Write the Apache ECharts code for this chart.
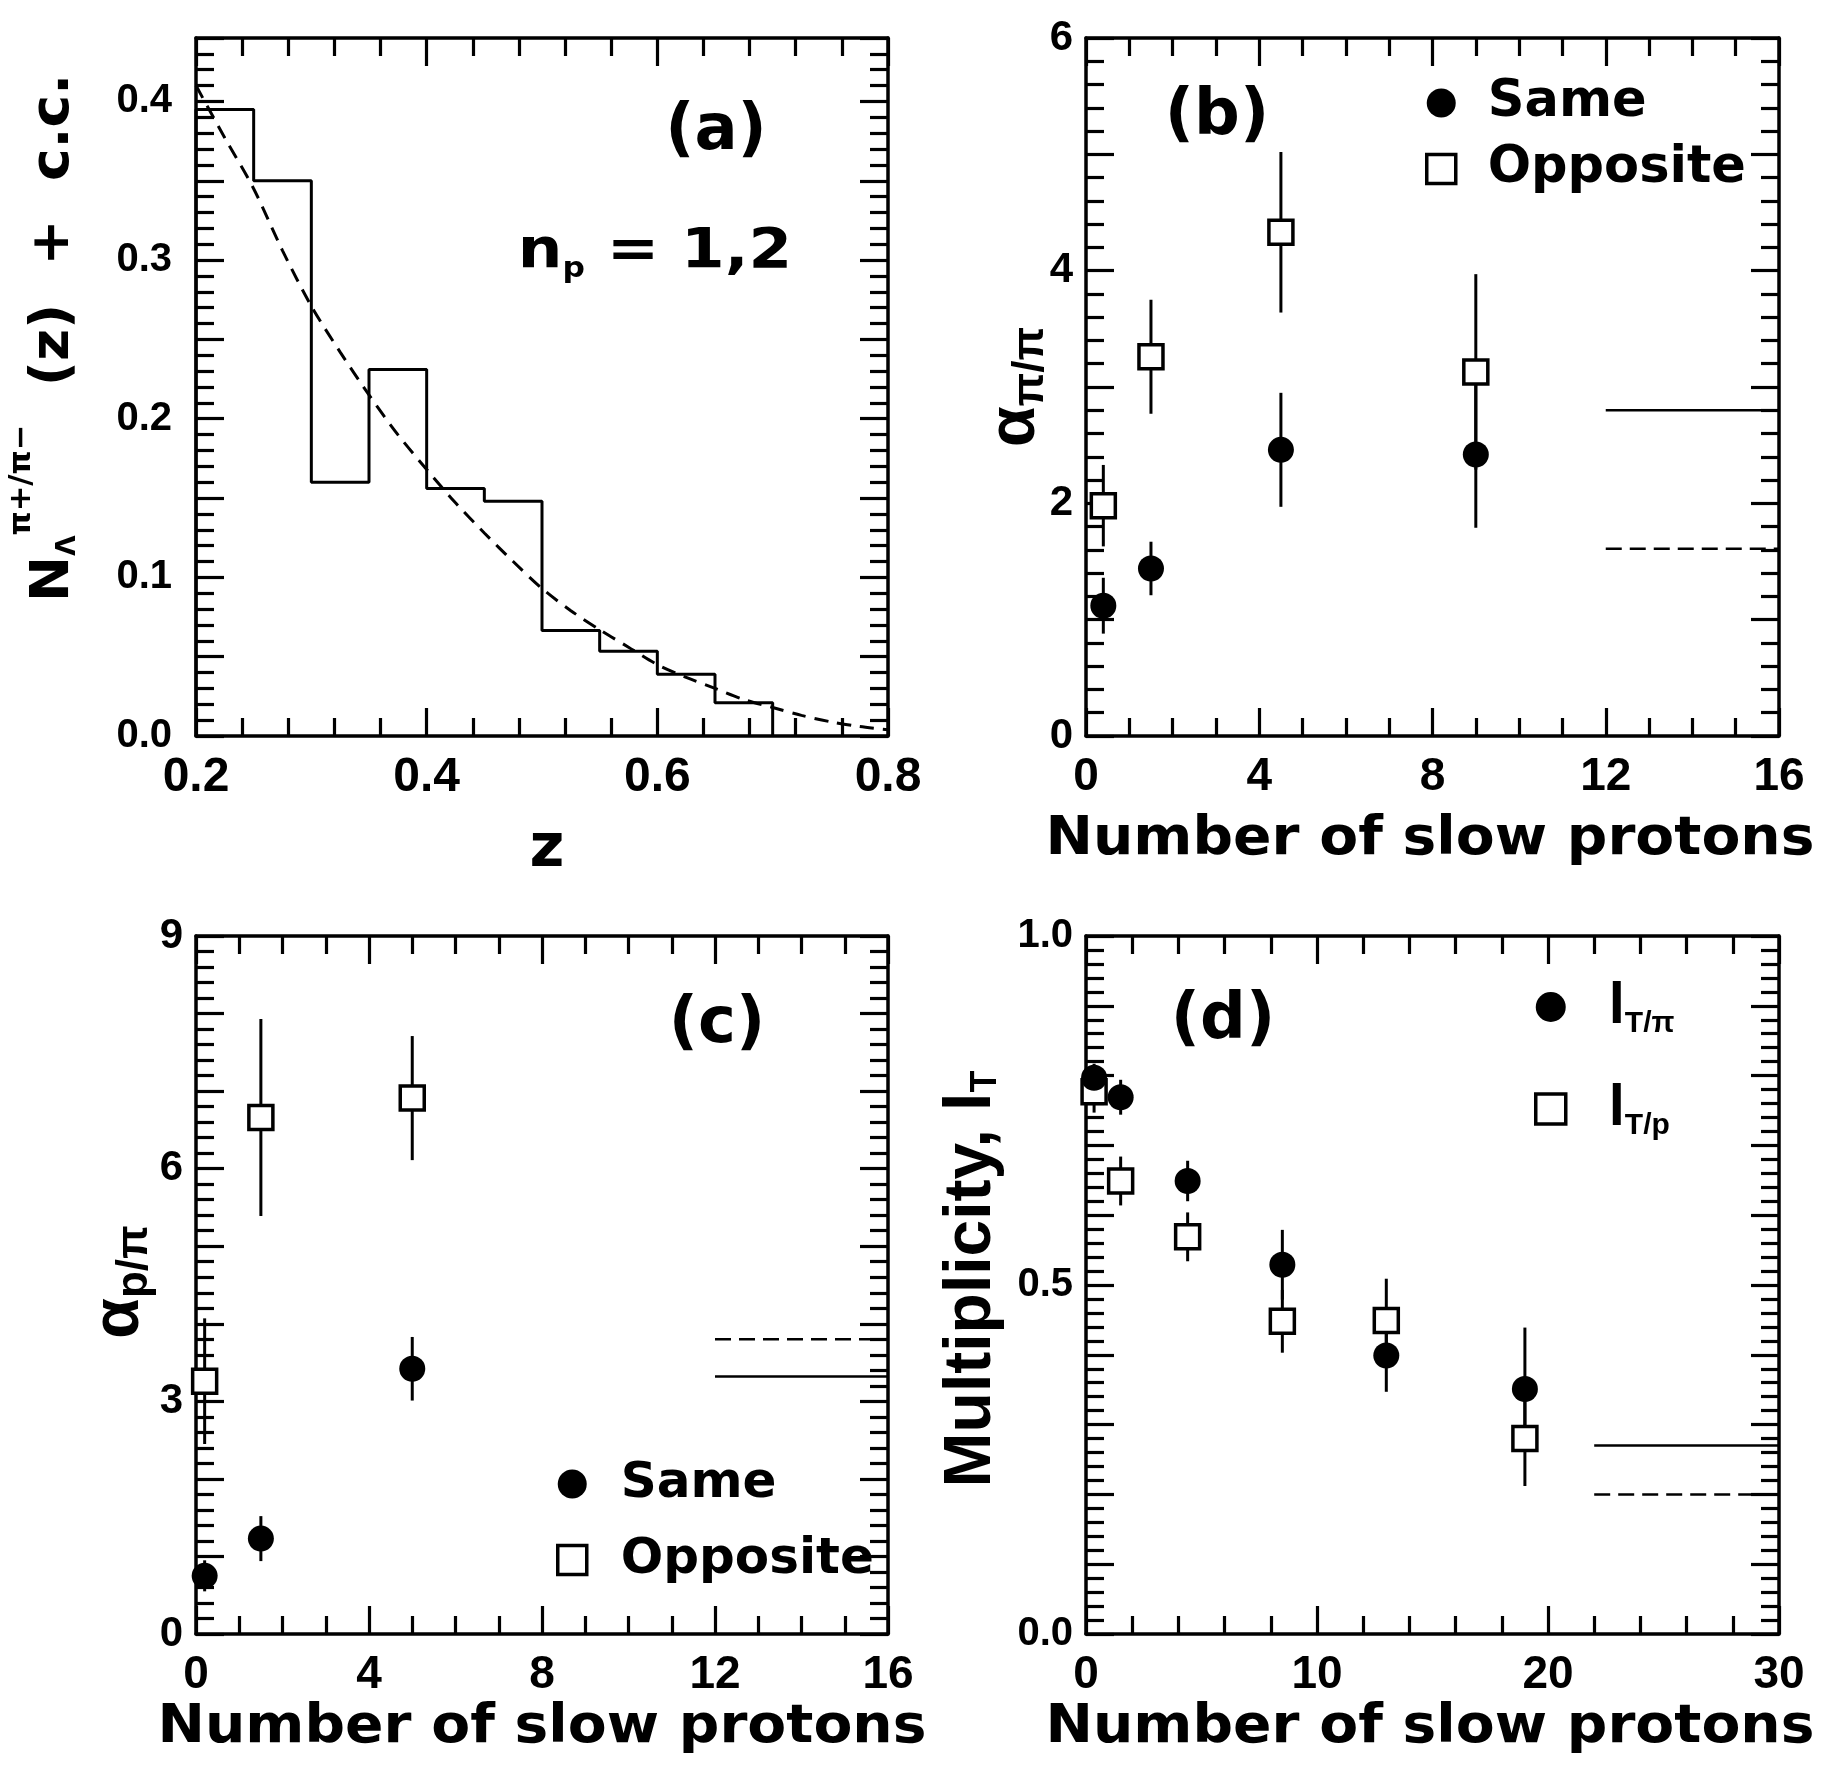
<!DOCTYPE html>
<html>
<head>
<meta charset="utf-8">
<script src="https://cdn.jsdelivr.net/npm/echarts@6/dist/echarts.min.js"></script>
<style>
  html, body { margin: 0; padding: 0; background: #fff; }
  #chart { width: 1829px; height: 1770px; }
</style>
</head>
<body>
<div id="chart"></div>
<script>
// ---------- (a) z distribution, n_p = 1,2 ----------
const zBinEdges   = [0.20, 0.25, 0.30, 0.35, 0.40, 0.45, 0.50, 0.55, 0.60, 0.65, 0.70];
const zBinHeights = [0.395, 0.350, 0.160, 0.231, 0.156, 0.148, 0.0665, 0.0535, 0.039, 0.021];
const fitZ = [0.200, 0.225, 0.250, 0.275, 0.300, 0.325, 0.350, 0.375, 0.400, 0.425, 0.450, 0.475, 0.500,
              0.525, 0.550, 0.575, 0.600, 0.625, 0.650, 0.675, 0.700, 0.725, 0.750, 0.775, 0.800];
const fitN = [0.410, 0.377, 0.345, 0.306, 0.271, 0.242, 0.215, 0.190, 0.168, 0.147, 0.128, 0.110, 0.093,
              0.079, 0.067, 0.056, 0.045, 0.037, 0.030, 0.023, 0.018, 0.013, 0.009, 0.006, 0.004];
const zTickLabels  = [0.2, 0.4, 0.6, 0.8];
const nAxTickLabels = [0.0, 0.1, 0.2, 0.3, 0.4];

// ---------- (b) alpha pi/pi vs number of slow protons ----------
const nB          = [0.4, 1.5, 4.5, 9.0];
const alphaPiSame    = [1.12, 1.44, 2.46, 2.42];
const alphaPiSameErr = [0.24, 0.23, 0.49, 0.63];
const alphaPiOpp     = [1.98, 3.26, 4.33, 3.13];
const alphaPiOppErr  = [0.35, 0.49, 0.69, 0.84];
const refRangeB  = [12, 16];
const refSolidB  = 2.80;
const refDashedB = 1.61;
const npTickLabels16 = [0, 4, 8, 12, 16];
const alphaPiTickLabels = [0, 2, 4, 6];

// ---------- (c) alpha p/pi vs number of slow protons ----------
const nC          = [0.2, 1.5, 5.0];
const alphaPSame     = [0.75, 1.23, 3.42];
const alphaPSameErr  = [0.20, 0.29, 0.41];
const alphaPOpp      = [3.26, 6.66, 6.91];
const alphaPOppErr   = [0.81, 1.27, 0.80];
const refRangeC  = [12, 16];
const refSolidC  = 3.32;
const refDashedC = 3.80;
const alphaPTickLabels = [0, 3, 6, 9];

// ---------- (d) multiplicity l_T vs number of slow protons ----------
const nD          = [0.35, 1.5, 4.4, 8.5, 13.0, 19.0];
const lTPi        = [0.797, 0.769, 0.649, 0.529, 0.399, 0.351];
const lTPiErr     = [0.020, 0.025, 0.029, 0.050, 0.052, 0.088];
const lTP         = [0.777, 0.649, 0.569, 0.448, 0.449, 0.280];
const lTPErr      = [0.030, 0.035, 0.035, 0.045, 0.060, 0.068];
const refRangeD  = [22, 30];
const refSolidD  = 0.270;
const refDashedD = 0.200;
const npTickLabels30 = [0, 10, 20, 30];
const lTTickLabels = [0.0, 0.5, 1.0];

// ---------- styling ----------
const BLACK = '#000';
const TICK_FONT = 'Liberation Sans';
const TEXT_FONT = 'DejaVu Sans';
const MAJOR_TICK = 28;
const MINOR_TICK = 18;
const TICK_WIDTH = 3.2;

const grids = [
  { left: 196,  top: 38,  width: 692, height: 698 },
  { left: 1086, top: 38,  width: 693, height: 698 },
  { left: 196,  top: 936, width: 692, height: 698 },
  { left: 1086, top: 936, width: 693, height: 698 }
].map(g => Object.assign({ containLabel: false, outerBoundsMode: 'none' }, g));

const axisSpecs = [
  { x: { min: 0.2, max: 0.8, interval: 0.2, minor: 5, labels: zTickLabels, fmt: v => v.toFixed(1), size: 48, margin: 18 },
    y: { min: 0, max: 0.44, interval: 0.05, minor: 5, labels: nAxTickLabels, fmt: v => v.toFixed(1), size: 40, margin: 24 } },
  { x: { min: 0, max: 16, interval: 4, minor: 4, labels: npTickLabels16, fmt: v => String(v), size: 46, margin: 18 },
    y: { min: 0, max: 6, interval: 1, minor: 5, labels: alphaPiTickLabels, fmt: v => String(v), size: 42, margin: 13 } },
  { x: { min: 0, max: 16, interval: 4, minor: 4, labels: npTickLabels16, fmt: v => String(v), size: 46, margin: 18 },
    y: { min: 0, max: 9, interval: 1, minor: 5, labels: alphaPTickLabels, fmt: v => String(v), size: 42, margin: 13 } },
  { x: { min: 0, max: 30, interval: 10, minor: 5, labels: npTickLabels30, fmt: v => String(v), size: 46, margin: 18 },
    y: { min: 0, max: 1, interval: 0.1, minor: 5, labels: lTTickLabels, fmt: v => v.toFixed(1), size: 40, margin: 13 } }
];

function labelFor(v, spec) {
  const hit = spec.labels.find(t => Math.abs(t - v) < 1e-6);
  return hit === undefined ? '' : spec.fmt(hit);
}

// frame axis: line, long inward ticks, shorter inward sub-division ticks, optional labels
function frameAxis(gi, position, spec, withLabels) {
  return {
    type: 'value', gridIndex: gi, position,
    min: spec.min, max: spec.max, interval: spec.interval,
    axisLine: { show: true, onZero: false, lineStyle: { color: BLACK, width: 3.5 } },
    axisTick: { show: true, inside: true, length: MAJOR_TICK, lineStyle: { color: BLACK, width: TICK_WIDTH } },
    minorTick: { show: true, splitNumber: spec.minor, length: MINOR_TICK, lineStyle: { color: BLACK, width: TICK_WIDTH } },
    splitLine: { show: false },
    minorSplitLine: { show: false },
    axisPointer: { show: false },
    axisLabel: withLabels ? {
      show: true, margin: spec.margin, color: BLACK, fontFamily: TICK_FONT, fontWeight: 'bold',
      fontSize: spec.size, showMinLabel: true, showMaxLabel: true, hideOverlap: false,
      formatter: v => labelFor(v, spec)
    } : { show: false }
  };
}

const xAxes = [], yAxes = [];
axisSpecs.forEach((s, gi) => {
  xAxes.push(frameAxis(gi, 'bottom', s.x, true), frameAxis(gi, 'top', s.x, false));
  yAxes.push(frameAxis(gi, 'left', s.y, true), frameAxis(gi, 'right', s.y, false));
});
const AX = gi => ({ xAxisIndex: 2 * gi, yAxisIndex: 2 * gi });

const zip = (xs, ys) => xs.map((x, i) => [x, ys[i]]);

function errorBars(name, gi, xs, ys, errs) {
  return Object.assign({
    name, type: 'custom', z: 2, silent: true,
    data: xs.map((x, i) => [x, ys[i] - errs[i], ys[i] + errs[i]]),
    encode: { x: 0, y: [1, 2] },
    renderItem: (params, api) => {
      const lo = api.coord([api.value(0), api.value(1)]);
      const hi = api.coord([api.value(0), api.value(2)]);
      return { type: 'line', shape: { x1: lo[0], y1: lo[1], x2: hi[0], y2: hi[1] },
               style: { stroke: BLACK, lineWidth: 3 } };
    }
  }, AX(gi));
}

function filledPoints(name, gi, xs, ys) {
  return Object.assign({ name, type: 'scatter', z: 4,
           symbol: 'circle', symbolSize: 26, itemStyle: { color: BLACK, opacity: 1 },
           emphasis: { disabled: true }, data: zip(xs, ys) }, AX(gi));
}

function openPoints(name, gi, xs, ys) {
  return Object.assign({ name, type: 'scatter', z: 3,
           symbol: 'rect', symbolSize: 24,
           itemStyle: { color: '#fff', borderColor: BLACK, borderWidth: 3.5, opacity: 1 },
           emphasis: { disabled: true }, data: zip(xs, ys) }, AX(gi));
}

function refLine(gi, range, level, dashed) {
  return Object.assign({ type: 'line', z: 2, silent: true,
           symbol: 'none', data: range.map(x => [x, level]),
           lineStyle: { color: BLACK, width: 2.5, type: dashed ? [16, 8] : 'solid' } }, AX(gi));
}

// histogram outline from bin edges and heights
const histPoints = [[zBinEdges[0], 0]];
zBinHeights.forEach((h, i) => { histPoints.push([zBinEdges[i], h], [zBinEdges[i + 1], h]); });
histPoints.push([zBinEdges[zBinEdges.length - 1], 0]);

const series = [
  Object.assign({ type: 'line', symbol: 'none', silent: true, z: 3,
    data: histPoints, lineStyle: { color: BLACK, width: 3 } }, AX(0)),
  Object.assign({ type: 'line', symbol: 'none', silent: true, z: 2, smooth: 0.3,
    data: zip(fitZ, fitN), lineStyle: { color: BLACK, width: 3, type: [14, 9] } }, AX(0)),

  errorBars('same-b-err', 1, nB, alphaPiSame, alphaPiSameErr),
  errorBars('opp-b-err', 1, nB, alphaPiOpp, alphaPiOppErr),
  openPoints('Opposite', 1, nB, alphaPiOpp),
  filledPoints('Same', 1, nB, alphaPiSame),
  refLine(1, refRangeB, refSolidB, false),
  refLine(1, refRangeB, refDashedB, true),

  errorBars('same-c-err', 2, nC, alphaPSame, alphaPSameErr),
  errorBars('opp-c-err', 2, nC, alphaPOpp, alphaPOppErr),
  openPoints('Opposite', 2, nC, alphaPOpp),
  filledPoints('Same', 2, nC, alphaPSame),
  refLine(2, refRangeC, refDashedC, true),
  refLine(2, refRangeC, refSolidC, false),

  errorBars('lTpi-err', 3, nD, lTPi, lTPiErr),
  errorBars('lTp-err', 3, nD, lTP, lTPErr),
  openPoints('lTp', 3, nD, lTP),
  filledPoints('lTpi', 3, nD, lTPi),
  refLine(3, refRangeD, refSolidD, false),
  refLine(3, refRangeD, refDashedD, true)
];

const circleItem = name => ({ name, icon: 'circle', itemStyle: { color: BLACK, borderWidth: 0, opacity: 1 } });
const squareItem = name => ({ name, icon: 'rect', itemStyle: { color: '#fff', borderColor: BLACK, borderWidth: 3.5, opacity: 1 } });

const legendText = (size, pad) => ({
  fontFamily: TEXT_FONT, fontWeight: 'bold', fontSize: size, color: BLACK, lineHeight: 62, padding: [0, 0, 0, pad]
});

const lTLabels = { lTpi: '{l|l}{s|T/π}', lTp: '{l|l}{s|T/p}' };

const legends = [
  { left: 1420, top: 67, orient: 'vertical', itemWidth: 29, itemHeight: 29, itemGap: 4,
    selectedMode: false, textStyle: legendText(51, 27),
    data: [circleItem('Same'), squareItem('Opposite')] },
  { left: 551, top: 1448, orient: 'vertical', itemWidth: 29, itemHeight: 29, itemGap: 14,
    selectedMode: false, textStyle: legendText(50, 29),
    data: [circleItem('Same'), squareItem('Opposite')] },
  { left: 1529, top: 973, orient: 'vertical', itemWidth: 30, itemHeight: 30, itemGap: 41,
    selectedMode: false,
    formatter: name => lTLabels[name],
    textStyle: {
      color: BLACK, padding: [0, 0, 0, 38],
      rich: {
        l: { fontFamily: TICK_FONT, fontWeight: 'bold', fontSize: 58, lineHeight: 64, verticalAlign: 'middle', color: BLACK },
        s: { fontFamily: TICK_FONT, fontWeight: 'bold', fontSize: 30, verticalAlign: 'middle', padding: [34, 0, 0, 0], color: BLACK }
      }
    },
    data: [circleItem('lTpi'), squareItem('lTp')] }
];

// axis titles and panel tags
function plainText(x, y, text, size, extra) {
  return Object.assign({ type: 'text', x, y, silent: true,
    style: { text, fontFamily: TEXT_FONT, fontWeight: 'bold', fontSize: size, fill: BLACK, align: 'center', verticalAlign: 'middle' } }, extra || {});
}
function richText(x, y, text, rich, extra) {
  return Object.assign({ type: 'text', x, y, silent: true,
    style: { text, rich, fill: BLACK, align: 'center', verticalAlign: 'middle' } }, extra || {});
}
const UP = Math.PI / 2;
const alphaRich = {
  a: { fontFamily: TICK_FONT, fontWeight: 'bold', fontSize: 66, lineHeight: 74, verticalAlign: 'middle' },
  s: { fontFamily: TICK_FONT, fontWeight: 'bold', fontSize: 44, verticalAlign: 'middle', padding: [30, 0, 0, 0] }
};

const graphic = [
  plainText(716, 132, '(a)', 64),
  richText(655, 252, '{n|n}{p|p}{n| = 1,2}', {
    n: { fontFamily: TEXT_FONT, fontWeight: 'bold', fontSize: 56, verticalAlign: 'middle' },
    p: { fontFamily: TEXT_FONT, fontWeight: 'bold', fontSize: 28, verticalAlign: 'middle', padding: [36, 0, 0, 0] }
  }, { scaleX: 1.12 }),
  plainText(1217, 117, '(b)', 64),
  plainText(717, 1025, '(c)', 64),
  plainText(1223, 1021, '(d)', 64),

  plainText(547, 850, 'z', 60),
  plainText(1430, 840, 'Number of slow protons', 54, { scaleX: 1.05 }),
  plainText(542, 1728, 'Number of slow protons', 54, { scaleX: 1.05 }),
  plainText(1430, 1728, 'Number of slow protons', 54, { scaleX: 1.05 }),

  richText(54, 338, '{N|N}{sb|Λ}{sp|π+/π−}{t|  (z)  +  c.c.}', {
    N:  { fontFamily: TEXT_FONT, fontWeight: 'bold', fontSize: 54, lineHeight: 60, verticalAlign: 'middle' },
    sb: { fontFamily: TEXT_FONT, fontWeight: 'bold', fontSize: 26, verticalAlign: 'middle', padding: [28, 0, 0, 0] },
    sp: { fontFamily: TEXT_FONT, fontWeight: 'bold', fontSize: 30, verticalAlign: 'middle', padding: [0, 0, 64, 0] },
    t:  { fontFamily: TEXT_FONT, fontWeight: 'bold', fontSize: 54, lineHeight: 60, verticalAlign: 'middle' }
  }, { rotation: UP, scaleX: 1.02 }),

  richText(1016, 387, '{a|α}{s|π/π}', alphaRich, { rotation: UP }),
  richText(120, 1282, '{a|α}{s|p/π}', alphaRich, { rotation: UP }),
  richText(972, 1279, '{m|Multiplicity, l}{s|T}', {
    m: { fontFamily: TICK_FONT, fontWeight: 'bold', fontSize: 66, lineHeight: 76, verticalAlign: 'middle' },
    s: { fontFamily: TICK_FONT, fontWeight: 'bold', fontSize: 36, verticalAlign: 'middle', padding: [28, 0, 0, 0] }
  }, { rotation: UP })
];

const chart = echarts.init(document.getElementById('chart'), null, { renderer: 'canvas' });
chart.setOption({
  backgroundColor: '#fff',
  animation: false,
  grid: grids,
  xAxis: xAxes,
  yAxis: yAxes,
  legend: legends,
  series,
  graphic
});
</script>
</body>
</html>
